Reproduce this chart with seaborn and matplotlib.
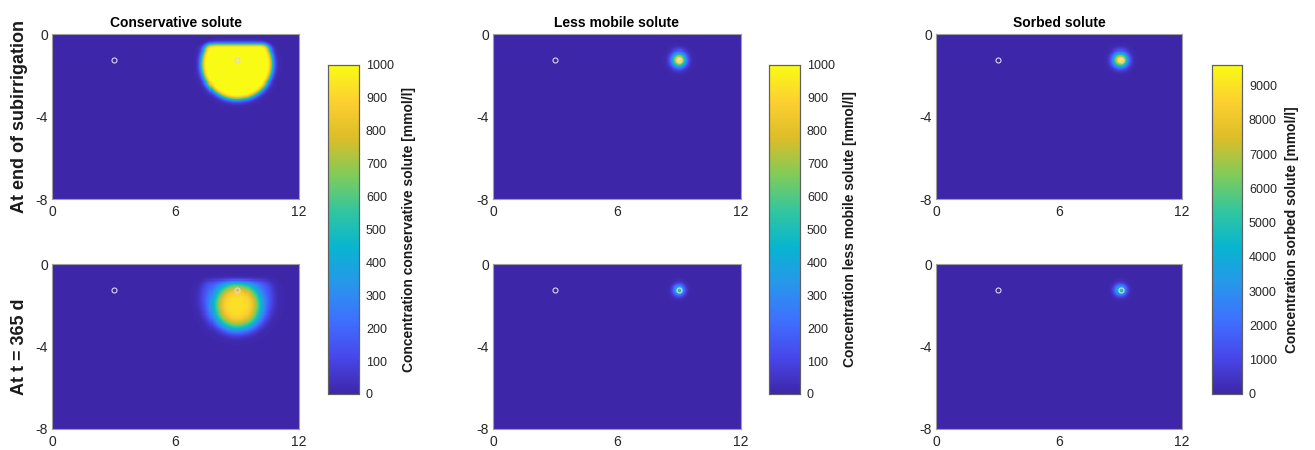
import numpy as np
import pandas as pd
import matplotlib
matplotlib.use("Agg")
import matplotlib.pyplot as plt
import seaborn as sns
from matplotlib.colors import LinearSegmentedColormap

# ---------------- data ----------------
col_titles = ["Conservative solute", "Less mobile solute", "Sorbed solute"]
row_titles = ["At end of subirrigation", "At t = 365 d"]
cbar_labels = ["Concentration conservative solute [mmol/l]",
               "Concentration less mobile solute [mmol/l]",
               "Concentration sorbed solute [mmol/l]"]
cbar_max = [1000, 1000, 9600]
cbar_step = [100, 100, 1000]
cbar_top_tick = [1000, 1000, 9000]
x_tick_values = [0, 6, 12]
z_tick_values = [0, -4, -8]
domain_x = 12.0
domain_z = 8.0
obs_x = [3.0, 9.0]
obs_z = [-1.25, -1.25]

# conservative solute, end of subirrigation: saturated disc below the source
cons_end_peak = 1050
cons_end_center = [9.0, -1.45]
cons_end_radius = 1.72
cons_end_top = -0.5
# conservative solute, t = 365 d: core + low halo
cons_365_core_peak = 740
cons_365_core_center = [9.0, -2.0]
cons_365_core_scale = 1.15
cons_365_halo_value = 190
cons_365_halo_center = [9.0, -1.65]
cons_365_halo_radius = 1.7
cons_365_top = -0.8
# small spots at the source (less mobile, sorbed) : [end, 365 d]
less_mobile_peak = [1000, 560]
less_mobile_width = [0.24, 0.19]
sorbed_peak = [9600, 5200]
sorbed_width = [0.24, 0.19]
spot_center = [9.0, -1.25]

# ---------------- colormap (MATLAB parula, 10 anchors) ----------------
parula_rgb = [
    [0.2422, 0.1504, 0.6603], [0.2803, 0.2782, 0.9221], [0.2440, 0.4358, 0.9988],
    [0.1540, 0.5902, 0.9218], [0.0297, 0.7082, 0.8163], [0.1938, 0.7758, 0.6251],
    [0.5044, 0.7993, 0.3480], [0.8634, 0.7406, 0.1596], [0.9892, 0.8136, 0.1885],
    [0.9769, 0.9839, 0.0805]]
parula = LinearSegmentedColormap.from_list("parula", parula_rgb, N=256)

# ---------------- build fields ----------------
dx = 0.05
nx = int(round(domain_x / dx))
nz = int(round(domain_z / dx))
xc = (np.arange(nx) + 0.5) * dx
zc = -(np.arange(nz) + 0.5) * dx
X, Z = np.meshgrid(xc, zc)


def sig(t):
    return 1.0 / (1.0 + np.exp(-t))


def dist(c):
    return np.hypot(X - c[0], Z - c[1])


f_cons_end = (cons_end_peak * sig((cons_end_radius - dist(cons_end_center)) / 0.08)
              * sig((cons_end_top - Z) / 0.06))
core = cons_365_core_peak * np.exp(-(dist(cons_365_core_center) / cons_365_core_scale) ** 4)
halo = cons_365_halo_value * sig((cons_365_halo_radius - dist(cons_365_halo_center)) / 0.15)
f_cons_365 = (core + halo) * sig((cons_365_top - Z) / 0.07)


def spot(peak, w):
    return peak * np.exp(-0.5 * (dist(spot_center) / w) ** 2)


fields = [
    [f_cons_end, spot(less_mobile_peak[0], less_mobile_width[0]), spot(sorbed_peak[0], sorbed_width[0])],
    [f_cons_365, spot(less_mobile_peak[1], less_mobile_width[1]), spot(sorbed_peak[1], sorbed_width[1])],
]

# ---------------- layout ----------------
W, H = 1315, 450
sns.set_theme(style="white")
plt.rcParams["font.family"] = ["Liberation Sans", "DejaVu Sans"]
fig = plt.figure(figsize=(W / 100, H / 100), dpi=100)


def px_axes(left, top, right, bottom):
    return fig.add_axes([left / W, 1 - bottom / H, (right - left) / W, (bottom - top) / H])


col_lr = [(52, 299), (493, 741), (936, 1182)]
row_tb = [(34, 199), (264, 429)]
cbar_lr = [(328, 359), (769, 800), (1212, 1242)]
cbar_tb = (65, 394)

tick_color = "#262626"
frame_color = "#a0a0a0"

for c in range(3):
    cax = px_axes(cbar_lr[c][0], cbar_tb[0], cbar_lr[c][1], cbar_tb[1])
    for r in range(2):
        ax = px_axes(col_lr[c][0], row_tb[r][0], col_lr[c][1], row_tb[r][1])
        df = pd.DataFrame(fields[r][c], index=np.round(zc, 3), columns=np.round(xc, 3))
        sns.heatmap(df, ax=ax, cmap=parula, vmin=0, vmax=cbar_max[c],
                    cbar=(r == 0), cbar_ax=cax if r == 0 else None,
                    xticklabels=False, yticklabels=False, rasterized=True)
        # observation points
        ax.plot(np.array(obs_x) / dx, -np.array(obs_z) / dx, "o", ms=3.6,
                mfc="none", mec="#d8d8e8", mew=0.8)
        ax.set_xticks([v / domain_x * nx for v in x_tick_values])
        ax.set_xticklabels([str(v) for v in x_tick_values])
        ax.set_yticks([-v / domain_z * nz for v in z_tick_values])
        ax.set_yticklabels([str(v) for v in z_tick_values])
        ax.tick_params(axis="both", direction="in", length=3, width=0.6,
                       color=frame_color, labelcolor=tick_color, labelsize=10, pad=3)
        ax.tick_params(axis="x", pad=4)
        ax.set_xlabel("")
        ax.set_ylabel("")
        for s in ax.spines.values():
            s.set_visible(True)
            s.set_color(frame_color)
            s.set_linewidth(0.8)
        if r == 0:
            ax.set_title(col_titles[c], fontsize=10, fontweight="bold", color="black", pad=5)
        if c == 0:
            yc = (row_tb[r][0] + row_tb[r][1]) / 2
            fig.text(20 / W, 1 - yc / H, row_titles[r], rotation=90, ha="center",
                     va="center", fontsize=13, fontweight="bold", color="#1a1a1a")
    # colorbar styling
    cb = cax.collections[0].colorbar if cax.collections else None
    cax.set_ylim(0, cbar_max[c])
    cax.set_yticks(list(range(0, cbar_top_tick[c] + 1, cbar_step[c])))
    cax.set_yticklabels([str(v) for v in range(0, cbar_top_tick[c] + 1, cbar_step[c])])
    cax.yaxis.set_ticks_position("right")
    cax.tick_params(axis="y", direction="in", length=4, width=0.6, color="#404040",
                    labelcolor=tick_color, labelsize=9, pad=5)
    for s in cax.spines.values():
        s.set_visible(True)
        s.set_color("#606060")
        s.set_linewidth(0.8)
    if cb is not None:
        cb.outline.set_visible(True)
        cb.outline.set_edgecolor("#606060")
        cb.outline.set_linewidth(0.8)
    cax.set_ylabel(cbar_labels[c], fontsize=10, fontweight="bold", color="#1a1a1a", labelpad=6)
    cax.yaxis.set_label_position("right")

fig.savefig("out.png", dpi=100)
